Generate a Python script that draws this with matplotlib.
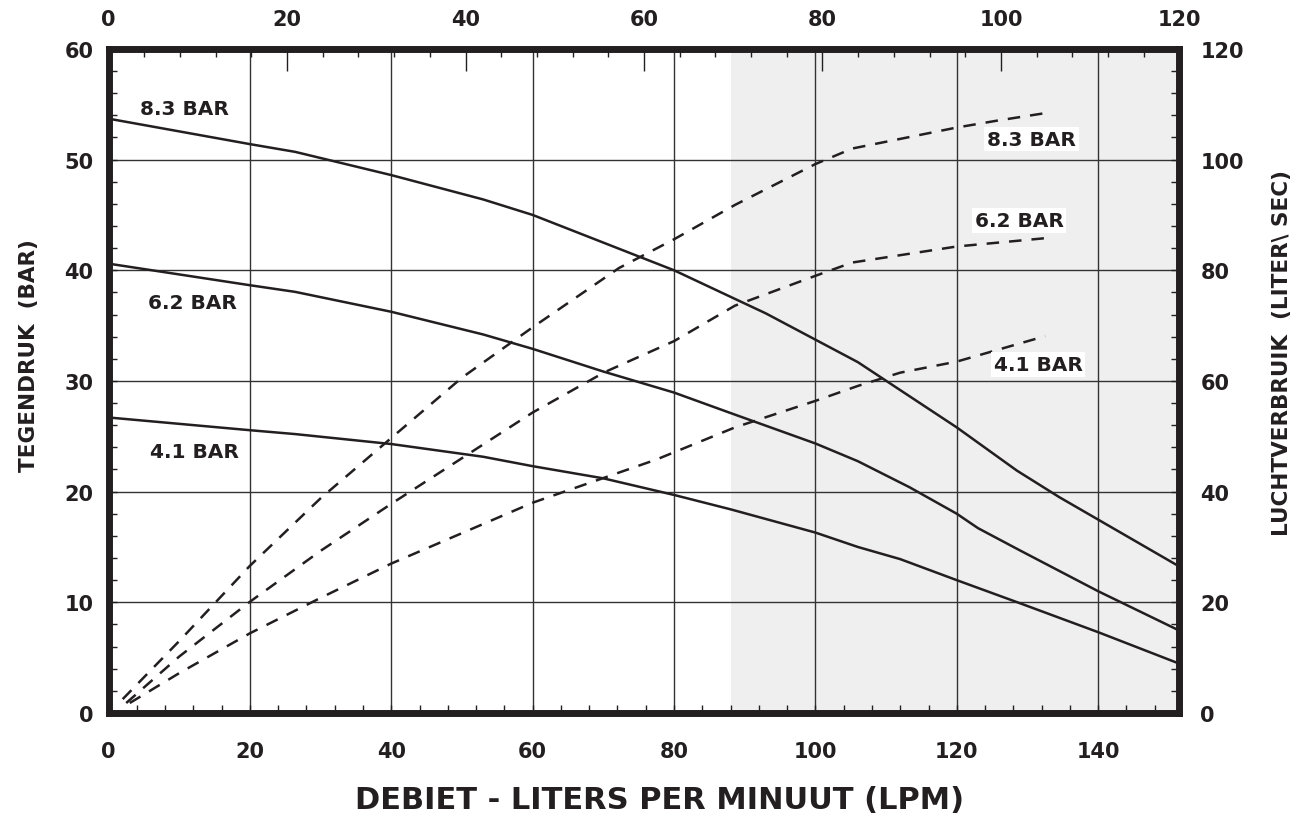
import matplotlib
matplotlib.use('Agg')
import matplotlib.pyplot as plt
from matplotlib.ticker import MultipleLocator

plt.rcParams['font.family'] = ['DejaVu Sans']
plt.rcParams['font.weight'] = 'bold'

INK = '#231f20'

# ---- data: back pressure (bar, left axis) vs flow (LPM) ----
flow_p83 = [0, 20, 26.4, 40, 53, 60, 80, 93, 106, 120, 128.5, 134.5, 151.3]
pres_p83 = [53.7, 51.4, 50.7, 48.6, 46.4, 45.0, 40.0, 36.1, 31.7, 25.8, 21.9, 19.5, 13.3]

flow_p62 = [0, 20, 26.4, 40, 53, 60, 70, 80, 88, 100, 106, 113.3, 120, 123, 128.9, 140, 151.3]
pres_p62 = [40.6, 38.65, 38.05, 36.25, 34.2, 32.9, 30.85, 28.95, 27.1, 24.35, 22.75, 20.4, 18.0, 16.7, 14.7, 11.0, 7.5]

flow_p41 = [0, 20, 26.4, 40, 53, 60, 70, 80, 88, 100, 106, 112, 120, 129, 140, 151.3]
pres_p41 = [26.7, 25.55, 25.2, 24.3, 23.15, 22.3, 21.2, 19.7, 18.4, 16.3, 15.0, 13.9, 12.0, 9.9, 7.3, 4.5]

# ---- data: air consumption (right axis) vs flow (LPM) ----
flow_a83 = [2, 10, 20, 30, 40, 50, 60, 72.2, 80, 88.6, 100, 105.2, 120, 125.5, 132.5]
air_a83 = [2.5, 13, 26.6, 38.8, 49.7, 60.6, 69.7, 80.4, 85.6, 91.8, 99.2, 102, 105.8, 107, 108.4]

flow_a62 = [2.5, 10, 20, 30, 40, 60, 70.2, 80, 88.6, 100, 105.2, 120, 132.5]
air_a62 = [1.8, 10.2, 20.1, 29.3, 37.8, 54.3, 61.6, 67.2, 73.6, 79, 81.4, 84.3, 85.8]

flow_a41 = [3, 10, 20, 30, 40, 60, 77.5, 88.6, 100, 106, 112, 120, 132.5]
air_a41 = [1.8, 7.2, 14.4, 20.8, 27.0, 38.0, 45.8, 51.6, 56.4, 59.1, 61.5, 63.5, 68.1]

x_ticks = [0, 20, 40, 60, 80, 100, 120, 140]
y_ticks = [0, 10, 20, 30, 40, 50, 60]
top_ticks = [0, 20, 40, 60, 80, 100, 120]
right_ticks = [0, 20, 40, 60, 80, 100, 120]

left_labels = ['8.3 BAR', '6.2 BAR', '4.1 BAR']
left_label_x = [10.7, 11.8, 12.2]
left_label_y = [54.6, 37.05, 23.6]
right_labels = ['8.3 BAR', '6.2 BAR', '4.1 BAR']
right_label_x = [130.6, 128.8, 131.5]
right_label_y = [103.7, 89.0, 63.0]

shade_start = 88
x_max = 151.5

fig = plt.figure(figsize=(13.03, 8.2), dpi=100)
ax = fig.add_axes([0.0833, 0.1293, 0.8219, 0.8098])
ax.set_xlim(0, x_max)
ax.set_ylim(0, 60)
ax.axvspan(shade_start, x_max, color='#efefef', lw=0, zorder=0)
ax.set_axisbelow(True)
ax.set_xticks(x_ticks)
ax.set_yticks(y_ticks)
ax.xaxis.set_minor_locator(MultipleLocator(4))
ax.yaxis.set_minor_locator(MultipleLocator(2))
ax.grid(True, which='major', color='#333333', lw=1.0)
ax.tick_params(axis='both', which='both', direction='in', length=6, width=1,
               color=INK, labelcolor=INK, labelsize=15)
ax.tick_params(axis='x', pad=20)
ax.tick_params(axis='y', pad=11)

for fx, py in [(flow_p83, pres_p83), (flow_p62, pres_p62), (flow_p41, pres_p41)]:
    ax.plot(fx, py, color=INK, lw=1.8, solid_joinstyle='miter', zorder=3)

for t, x, y in zip(left_labels, left_label_x, left_label_y):
    ax.text(x, y, t, ha='center', va='center', fontsize=14.5, color=INK, zorder=5)

for s in ax.spines.values():
    s.set_linewidth(5)
    s.set_color(INK)
    s.set_zorder(10)

# right axis (air consumption)
ax2 = ax.twinx()
ax2.set_ylim(0, 120)
ax2.set_yticks(right_ticks)
ax2.yaxis.set_minor_locator(MultipleLocator(4))
ax2.tick_params(axis='y', which='both', direction='in', length=6, width=1,
                color=INK, labelcolor=INK, labelsize=15, pad=15)
for s in ax2.spines.values():
    s.set_visible(False)
for fx, ay in [(flow_a83, air_a83), (flow_a62, air_a62), (flow_a41, air_a41)]:
    ax2.plot(fx, ay, color=INK, lw=1.8, linestyle=(0, (5, 4)), zorder=3)
for t, x, y in zip(right_labels, right_label_x, right_label_y):
    ax2.text(x, y, t, ha='center', va='center', fontsize=14.5, color=INK, zorder=5,
             bbox=dict(facecolor='white', edgecolor='none', pad=2))

# top axis
ax3 = ax.twiny()
ax3.set_xlim(0, 120)
ax3.set_xticks(top_ticks)
ax3.xaxis.set_minor_locator(MultipleLocator(4))
ax3.tick_params(axis='x', which='major', direction='in', length=16, width=1,
                color=INK, labelcolor=INK, labelsize=15, pad=14)
ax3.tick_params(axis='x', which='minor', direction='in', length=6, width=1, color=INK)
for s in ax3.spines.values():
    s.set_visible(False)

fig.text(0.506, 0.024, 'DEBIET - LITERS PER MINUUT (LPM)', ha='center', va='center',
         fontsize=22, color=INK)
fig.text(0.022, 0.566, 'TEGENDRUK  (BAR)', ha='center', va='center', rotation=90,
         fontsize=15.5, color=INK)
fig.text(0.984, 0.57, 'LUCHTVERBRUIK  (LITER\\ SEC)', ha='center', va='center', rotation=90,
         fontsize=15.5, color=INK)

fig.savefig('out.png', dpi=100)
